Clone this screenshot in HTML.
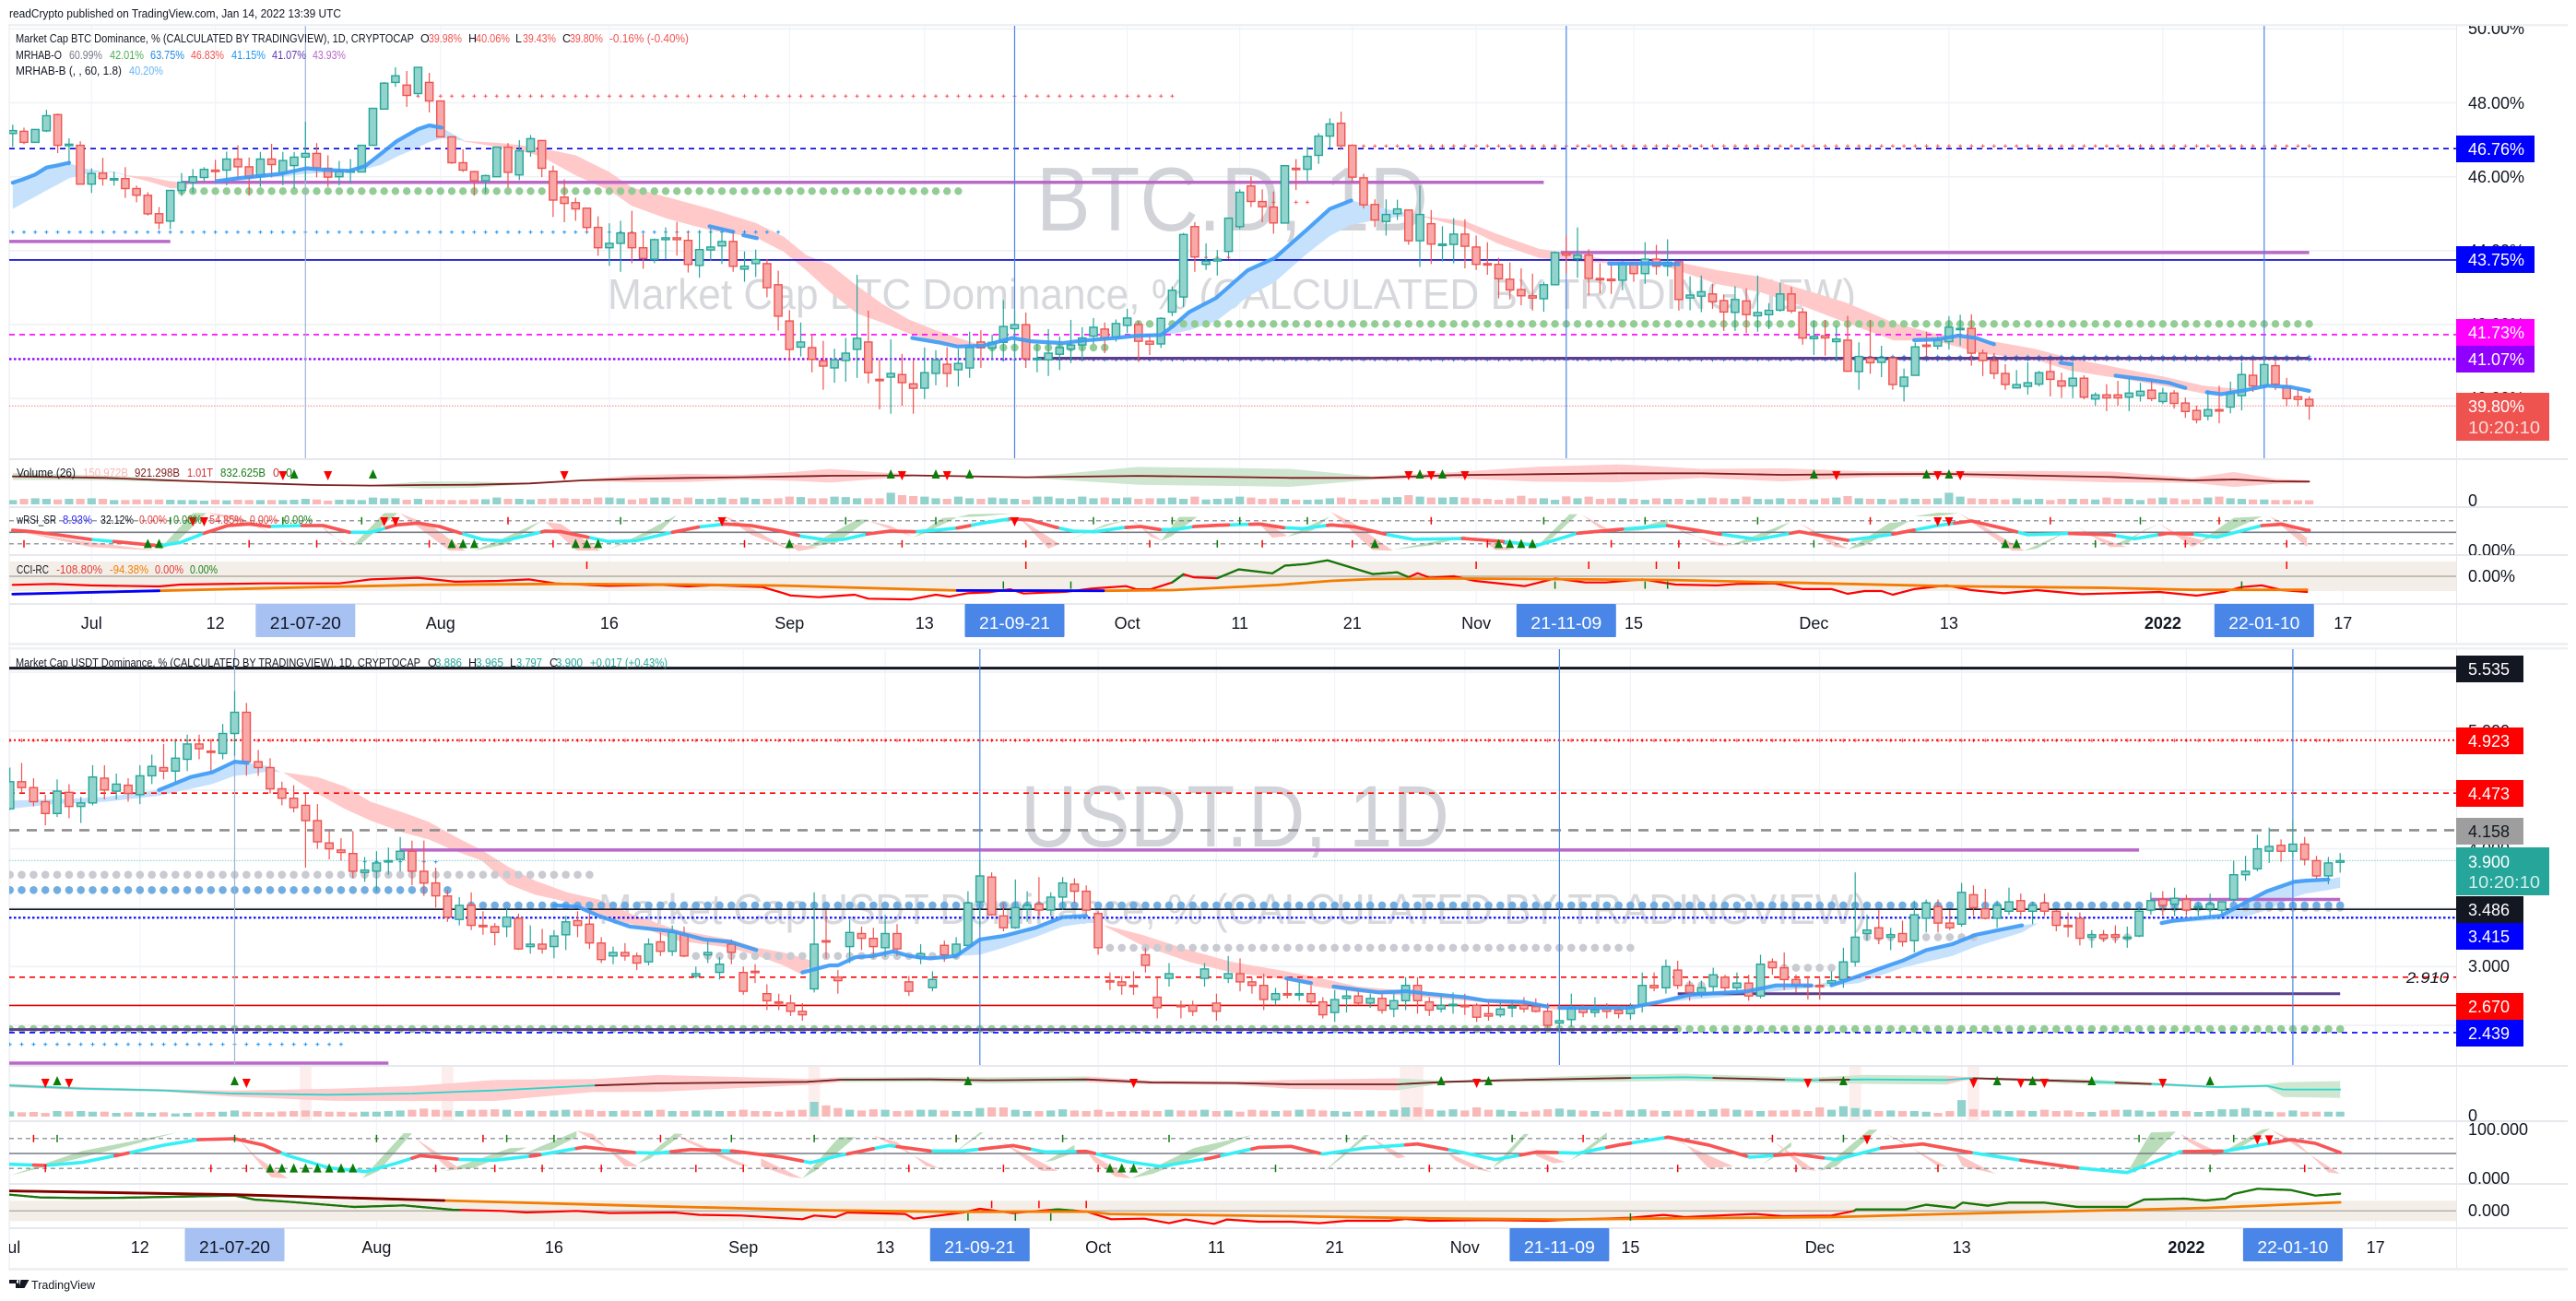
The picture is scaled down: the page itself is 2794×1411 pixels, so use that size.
<!DOCTYPE html>
<html lang="en">
<head>
<meta charset="utf-8">
<title>BTC.D and USDT.D dominance charts</title>
<style>
html,body{margin:0;padding:0;background:#fff}
svg{display:block;font-family:"Liberation Sans",sans-serif}
.lg{font-size:12.5px;fill:#131722}
.ax{font-size:18px;fill:#131722}
.pl{font-size:18px;fill:#fff}
</style>
</head>
<body>
<svg id="chart" xmlns="http://www.w3.org/2000/svg" width="2794" height="1411" viewBox="0 0 2794 1411">
<defs>
<clipPath id="clipBtcMain"><rect x="10" y="28" width="2654" height="469"/></clipPath>
<clipPath id="clipUsdtMain"><rect x="10" y="704" width="2654" height="451"/></clipPath>
<clipPath id="clipBtcVol"><rect x="10" y="499" width="2654" height="50"/></clipPath>
<clipPath id="clipBtcRsi"><rect x="10" y="551" width="2654" height="50"/></clipPath>
<clipPath id="clipBtcCci"><rect x="10" y="603" width="2654" height="51"/></clipPath>
<clipPath id="clipUsdtVol"><rect x="10" y="1157" width="2654" height="58"/></clipPath>
<clipPath id="clipUsdtRsi"><rect x="10" y="1217" width="2654" height="66"/></clipPath>
<clipPath id="clipUsdtCci"><rect x="10" y="1285" width="2654" height="46"/></clipPath>
<clipPath id="clipAxis"><rect x="10" y="655" width="2654" height="42"/></clipPath>
<clipPath id="clipAxis2"><rect x="10" y="1332" width="2654" height="43"/></clipPath>
<clipPath id="clipTopPrice"><rect x="2665" y="28" width="129" height="40"/></clipPath>
<clipPath id="clipPaneLabels"><rect x="2665" y="499" width="129" height="103"/></clipPath>
</defs>

<text x="10" y="19" class="lg" textLength="360" lengthAdjust="spacingAndGlyphs">readCrypto published on TradingView.com, Jan 14, 2022 13:39 UTC</text>

<g id="frame">
<rect x="10" y="26" width="2775" height="2.5" fill="#eff0f4"/>
<rect x="10" y="697" width="2775" height="3" fill="#eff0f4"/>
<rect x="10" y="702" width="2775" height="2.5" fill="#eff0f4"/>
<rect x="10" y="1375" width="2775" height="3" fill="#eff0f4"/>
<rect x="9.5" y="26" width="1" height="1352" fill="#e6e8ee"/>
</g>

<g id="grid"></g>

<text x="1124" y="250" font-size="98" fill="#d1d3d8" textLength="425" lengthAdjust="spacingAndGlyphs">BTC.D, 1D</text>
<text x="659" y="335" font-size="46" fill="#d6d8dc" textLength="1354" lengthAdjust="spacingAndGlyphs">Market Cap BTC Dominance, % (CALCULATED BY TRADINGVIEW)</text>
<text x="1107" y="918" font-size="95" fill="#d1d3d8" textLength="465" lengthAdjust="spacingAndGlyphs">USDT.D, 1D</text>
<text x="649" y="1002" font-size="46" fill="#d6d8dc" textLength="1376" lengthAdjust="spacingAndGlyphs">Market Cap USDT Dominance, % (CALCULATED BY TRADINGVIEW)</text>

<g id="btcMain" clip-path="url(#clipBtcMain)"></g>
<g id="usdtMain" clip-path="url(#clipUsdtMain)"></g>
<g id="btcVol" clip-path="url(#clipBtcVol)"></g>
<g id="btcRsi" clip-path="url(#clipBtcRsi)"></g>
<g id="btcCci" clip-path="url(#clipBtcCci)"></g>
<g id="usdtVol" clip-path="url(#clipUsdtVol)"></g>
<g id="usdtRsi" clip-path="url(#clipUsdtRsi)"></g>
<g id="usdtCci" clip-path="url(#clipUsdtCci)"></g>
<g id="btcTime" clip-path="url(#clipAxis)"></g>
<g id="usdtTime" clip-path="url(#clipAxis2)"></g>

<g>
<text x="17" y="46" class="lg" textLength="432" lengthAdjust="spacingAndGlyphs">Market Cap BTC Dominance, % (CALCULATED BY TRADINGVIEW), 1D, CRYPTOCAP</text>
<text x="456" y="46" class="lg">O</text>
<text x="465" y="46" class="lg" style="fill:#ef5350" textLength="36" lengthAdjust="spacingAndGlyphs">39.98%</text>
<text x="508" y="46" class="lg">H</text>
<text x="516" y="46" class="lg" style="fill:#ef5350" textLength="37" lengthAdjust="spacingAndGlyphs">40.06%</text>
<text x="559" y="46" class="lg">L</text>
<text x="567" y="46" class="lg" style="fill:#ef5350" textLength="36" lengthAdjust="spacingAndGlyphs">39.43%</text>
<text x="610" y="46" class="lg">C</text>
<text x="618" y="46" class="lg" style="fill:#ef5350" textLength="36" lengthAdjust="spacingAndGlyphs">39.80%</text>
<text x="661" y="46" class="lg" style="fill:#ef5350" textLength="86" lengthAdjust="spacingAndGlyphs">-0.16% (-0.40%)</text>
<text x="17" y="64" class="lg" textLength="50" lengthAdjust="spacingAndGlyphs">MRHAB-O</text>
<text x="75" y="64" class="lg" style="fill:#787b86" textLength="36" lengthAdjust="spacingAndGlyphs">60.99%</text>
<text x="119" y="64" class="lg" style="fill:#4caf50" textLength="37" lengthAdjust="spacingAndGlyphs">42.01%</text>
<text x="163" y="64" class="lg" style="fill:#1e88e5" textLength="37" lengthAdjust="spacingAndGlyphs">63.75%</text>
<text x="207" y="64" class="lg" style="fill:#ef5350" textLength="36" lengthAdjust="spacingAndGlyphs">46.83%</text>
<text x="251" y="64" class="lg" style="fill:#2196f3" textLength="37" lengthAdjust="spacingAndGlyphs">41.15%</text>
<text x="295" y="64" class="lg" style="fill:#5e35b1" textLength="37" lengthAdjust="spacingAndGlyphs">41.07%</text>
<text x="339" y="64" class="lg" style="fill:#ba68c8" textLength="36" lengthAdjust="spacingAndGlyphs">43.93%</text>
<text x="17" y="81" class="lg" textLength="115" lengthAdjust="spacingAndGlyphs">MRHAB-B (, , 60, 1.8)</text>
<text x="140" y="81" class="lg" style="fill:#64b5f6" textLength="37" lengthAdjust="spacingAndGlyphs">40.20%</text>
</g>

<g>
<text x="18" y="517" class="lg" textLength="64" lengthAdjust="spacingAndGlyphs">Volume (26)</text>
<text x="90" y="517" class="lg" style="fill:#f7b9b9" textLength="49" lengthAdjust="spacingAndGlyphs">150.972B</text>
<text x="146" y="517" class="lg" style="fill:#7f1d1d" textLength="49" lengthAdjust="spacingAndGlyphs">921.298B</text>
<text x="203" y="517" class="lg" style="fill:#d32f2f" textLength="28" lengthAdjust="spacingAndGlyphs">1.01T</text>
<text x="239" y="517" class="lg" style="fill:#1b7f1b" textLength="49" lengthAdjust="spacingAndGlyphs">832.625B</text>
<text x="296" y="517" class="lg" style="fill:#d32f2f">0</text>
<text x="310" y="517" class="lg" style="fill:#1b7f1b">0</text>
<text x="18" y="568" class="lg" textLength="43" lengthAdjust="spacingAndGlyphs">wRSI_SR</text>
<text x="68" y="568" class="lg" style="fill:#2a2af0" textLength="32" lengthAdjust="spacingAndGlyphs">8.93%</text>
<text x="109" y="568" class="lg" textLength="36" lengthAdjust="spacingAndGlyphs">32.12%</text>
<text x="151" y="568" class="lg" style="fill:#e53935" textLength="30" lengthAdjust="spacingAndGlyphs">0.00%</text>
<text x="188" y="568" class="lg" style="fill:#1b7f1b" textLength="31" lengthAdjust="spacingAndGlyphs">0.00%</text>
<text x="227" y="568" class="lg" style="fill:#e53935" textLength="37" lengthAdjust="spacingAndGlyphs">54.85%</text>
<text x="271" y="568" class="lg" style="fill:#e53935" textLength="30" lengthAdjust="spacingAndGlyphs">0.00%</text>
<text x="308" y="568" class="lg" style="fill:#1b7f1b" textLength="31" lengthAdjust="spacingAndGlyphs">0.00%</text>
<text x="18" y="622" class="lg" textLength="35" lengthAdjust="spacingAndGlyphs">CCI-RC</text>
<text x="61" y="622" class="lg" style="fill:#e53935" textLength="50" lengthAdjust="spacingAndGlyphs">-108.80%</text>
<text x="119" y="622" class="lg" style="fill:#f57c00" textLength="42" lengthAdjust="spacingAndGlyphs">-94.38%</text>
<text x="168" y="622" class="lg" style="fill:#e53935" textLength="31" lengthAdjust="spacingAndGlyphs">0.00%</text>
<text x="206" y="622" class="lg" style="fill:#1b7f1b" textLength="30" lengthAdjust="spacingAndGlyphs">0.00%</text>
</g>

<g>
<text x="17" y="723" class="lg" textLength="439" lengthAdjust="spacingAndGlyphs">Market Cap USDT Dominance, % (CALCULATED BY TRADINGVIEW), 1D, CRYPTOCAP</text>
<text x="464" y="723" class="lg">O</text>
<text x="472" y="723" class="lg" style="fill:#26a69a" textLength="29" lengthAdjust="spacingAndGlyphs">3.886</text>
<text x="508" y="723" class="lg">H</text>
<text x="516" y="723" class="lg" style="fill:#26a69a" textLength="30" lengthAdjust="spacingAndGlyphs">3.965</text>
<text x="553" y="723" class="lg">L</text>
<text x="560" y="723" class="lg" style="fill:#26a69a" textLength="28" lengthAdjust="spacingAndGlyphs">3.797</text>
<text x="596" y="723" class="lg">C</text>
<text x="603" y="723" class="lg" style="fill:#26a69a" textLength="29" lengthAdjust="spacingAndGlyphs">3.900</text>
<text x="640" y="723" class="lg" style="fill:#26a69a" textLength="84" lengthAdjust="spacingAndGlyphs">+0.017 (+0.43%)</text>
</g>

<g>
<rect x="2664" y="28" width="1" height="669" fill="#e6e8ee"/>
<text x="2677" y="37" class="ax" clip-path="url(#clipTopPrice)">50.00%</text>
<text x="2677" y="118" class="ax">48.00%</text>
<text x="2677" y="198" class="ax">46.00%</text>
<text x="2677" y="278" class="ax">44.00%</text>
<text x="2677" y="358" class="ax">42.00%</text>
<text x="2677" y="438" class="ax">40.00%</text>
<g><rect x="2664" y="147" width="85" height="29" fill="#0000ff"/><text x="2677" y="168" class="pl">46.76%</text></g>
<g><rect x="2664" y="267" width="85" height="29" fill="#0000ff"/><text x="2677" y="288" class="pl">43.75%</text></g>
<g><rect x="2664" y="346" width="85" height="29" fill="#ff00ff"/><text x="2677" y="367" class="pl">41.73%</text></g>
<g><rect x="2664" y="375" width="85" height="29" fill="#8f00ff"/><text x="2677" y="396" class="pl">41.07%</text></g>
<g><rect x="2664" y="426" width="101" height="52" fill="#ef5350"/><text x="2677" y="447" class="pl">39.80%</text><text x="2677" y="470" class="pl" fill-opacity="0.8" textLength="78" lengthAdjust="spacingAndGlyphs">10:20:10</text></g>
<g clip-path="url(#clipPaneLabels)">
<text x="2677" y="549" class="ax">0</text>
<text x="2677" y="603" class="ax">0.00%</text>
</g>
<text x="2677" y="631" class="ax">0.00%</text>
</g>

<g>
<rect x="2664" y="704" width="1" height="671" fill="#e6e8ee"/>
<text x="2677" y="799" class="ax">5.000</text>
<text x="2677" y="927" class="ax">4.000</text>
<text x="2677" y="1054" class="ax">3.000</text>
<g><rect x="2664" y="711" width="73" height="29" fill="#131722"/><text x="2677" y="732" class="pl">5.535</text></g>
<g><rect x="2664" y="789" width="73" height="29" fill="#ff0000"/><text x="2677" y="810" class="pl">4.923</text></g>
<g><rect x="2664" y="846" width="73" height="29" fill="#ff0000"/><text x="2677" y="867" class="pl">4.473</text></g>
<g><rect x="2664" y="887" width="73" height="29" fill="#9e9e9e"/><text x="2677" y="908" class="pl" style="fill:#131722">4.158</text></g>
<g><rect x="2664" y="919" width="101" height="52" fill="#26a69a"/><text x="2677" y="941" class="pl">3.900</text><text x="2677" y="963" class="pl" fill-opacity="0.8" textLength="78" lengthAdjust="spacingAndGlyphs">10:20:10</text></g>
<g><rect x="2664" y="972" width="73" height="29" fill="#131722"/><text x="2677" y="993" class="pl">3.486</text></g>
<g><rect x="2664" y="1001" width="73" height="29" fill="#0000ff"/><text x="2677" y="1022" class="pl">3.415</text></g>
<g><rect x="2664" y="1077" width="73" height="29" fill="#ff0000"/><text x="2677" y="1098" class="pl">2.670</text></g>
<g><rect x="2664" y="1106" width="73" height="29" fill="#0000ff"/><text x="2677" y="1127" class="pl">2.439</text></g>
<text x="2610" y="1066" font-size="17" font-style="italic" fill="#131722" textLength="46" lengthAdjust="spacingAndGlyphs">2.910</text>
<text x="2677" y="1216" class="ax">0</text>
<text x="2677" y="1231" class="ax">100.000</text>
<text x="2677" y="1284" class="ax">0.000</text>
<text x="2677" y="1319" class="ax">0.000</text>
</g>

<g>
<path d="M10 1388h11v9h-4v-5h-7zM22.5 1388h9l-5 9h-6z M20 1388a2 2 0 0 0 0 4z" fill="#131722"/>
<text x="34" y="1398" font-size="13" fill="#131722" textLength="69" lengthAdjust="spacingAndGlyphs">TradingView</text>
</g>
</svg>

<script>
// ---------- BTC.D price series (daily, %, from 24 Jun 2021) ----------
const btcOpen=[
47.17,47.23,46.93,47.24,47.68,46.84,46.85,45.80,46.10,45.93,
45.95,45.68,45.50,45.00,44.80,45.63,45.85,45.98,46.18,46.18,
46.48,46.27,46.00,46.48,46.10,46.30,46.53,46.63,46.23,46.00,
46.13,46.13,46.85,47.83,48.55,48.48,48.25,48.55,48.05,47.08,
46.38,46.14,45.89,46.00,46.80,46.05,46.68,46.98,46.15,45.45,
45.30,45.15,44.63,44.08,44.20,44.48,44.08,43.77,44.30,44.35,
44.28,43.60,44.02,44.13,44.25,43.50,43.65,43.65,43.08,42.10,
41.39,41.38,41.02,40.83,41.03,41.33,41.53,40.52,40.58,40.65,
40.40,40.28,40.68,40.93,40.78,40.83,41.53,41.37,41.52,41.89,
42.00,41.08,41.05,41.20,41.34,41.45,41.69,41.88,41.66,41.98,
42.00,41.55,41.48,42.34,42.75,44.65,43.63,43.72,43.98,44.65,
45.75,45.33,45.18,44.75,46.23,46.20,46.58,47.10,47.45,46.85,
45.97,45.25,44.79,45.00,45.10,44.27,44.73,44.14,44.17,44.45,
44.10,43.65,43.63,43.23,42.95,42.78,42.70,43.08,43.93,43.78,
43.88,43.25,43.23,43.20,43.66,43.38,43.77,43.58,43.70,42.72,
42.77,42.83,42.65,42.33,42.64,42.24,42.27,42.39,42.83,42.34,
41.62,41.70,41.54,41.58,40.73,41.09,40.98,41.10,40.33,40.63,
41.45,41.42,41.54,41.87,41.90,41.23,41.03,40.68,40.29,40.33,
40.39,40.73,40.48,40.34,40.55,39.99,40.10,40.10,40.04,40.08,
40.23,39.92,40.15,39.88,39.68,39.53,39.70,39.77,40.08,40.63,
40.35,40.89,40.34,40.05,39.98];
const btcClose=[
47.25,46.93,47.28,47.65,46.85,46.88,45.80,46.09,45.95,45.95,
45.68,45.50,45.00,44.75,45.63,45.85,46.00,46.20,46.14,46.48,
46.27,45.98,46.48,46.33,46.44,46.53,46.63,46.24,45.99,46.14,
46.16,46.85,47.85,48.53,48.73,48.20,48.96,48.05,47.08,46.38,
46.18,45.89,46.03,46.80,46.12,46.70,47.03,46.23,45.37,45.28,
45.13,44.63,44.08,44.20,44.48,44.08,43.79,44.30,44.35,44.30,
43.63,44.03,44.10,44.25,43.58,43.58,43.76,43.00,42.23,41.33,
41.53,41.06,40.88,41.05,41.23,41.63,40.70,40.49,40.68,40.43,
40.28,40.70,41.05,40.68,40.95,41.38,41.37,41.52,41.95,42.00,
41.08,41.09,41.23,41.38,41.45,41.64,41.93,41.64,42.03,42.18,
41.55,41.47,42.17,42.93,44.44,43.83,43.72,43.77,44.88,45.58,
45.33,45.19,44.75,46.30,46.21,46.55,47.10,47.43,46.84,45.99,
45.24,44.83,44.98,45.13,44.27,44.98,44.18,44.18,44.45,44.12,
43.63,43.62,43.24,42.94,42.78,42.72,43.08,43.95,43.88,43.88,
43.25,43.23,43.19,43.66,43.38,43.77,43.58,43.69,42.68,42.80,
42.89,42.62,42.34,42.68,42.27,42.33,42.39,42.83,42.37,41.64,
41.68,41.64,41.61,40.74,41.14,40.97,41.10,40.38,40.58,41.40,
41.42,41.58,41.93,41.90,41.23,41.03,40.68,40.38,40.38,40.43,
40.70,40.52,40.34,40.55,40.04,40.10,40.02,40.02,40.15,40.20,
40.00,40.15,39.87,39.65,39.43,39.70,39.67,40.16,40.65,40.34,
40.92,40.39,40.00,39.98,39.80];
const btcHigh=[
47.41,47.33,47.28,47.81,47.71,47.04,46.96,46.23,46.51,46.14,
46.26,45.76,45.58,45.18,45.63,46.10,46.21,46.26,46.46,46.68,
46.85,46.52,46.67,46.89,46.67,46.67,47.49,46.91,46.58,46.43,
46.48,46.85,47.85,48.56,48.96,48.86,48.96,48.81,48.05,47.08,
46.74,46.16,46.06,46.81,46.91,46.99,47.13,46.99,46.30,45.93,
45.43,45.15,44.93,44.74,44.81,45.08,44.46,44.33,44.63,44.78,
44.52,44.56,44.60,44.60,44.48,43.98,44.03,43.77,43.46,42.39,
42.06,41.74,41.56,41.35,41.64,43.35,42.38,41.06,41.60,41.21,
41.06,41.38,41.31,41.39,41.35,41.81,41.85,41.73,42.66,42.39,
42.33,41.48,41.88,41.68,42.13,41.93,42.18,42.06,42.14,42.43,
42.10,41.73,42.20,43.03,44.48,44.77,44.20,44.02,44.88,45.66,
46.01,45.66,45.60,46.30,46.48,46.81,47.18,47.58,47.76,46.85,
46.08,45.39,45.39,45.38,45.10,45.76,45.10,44.66,44.88,44.85,
44.41,44.23,43.81,43.68,43.52,43.38,43.16,43.98,44.41,44.63,
44.04,43.66,43.64,43.73,43.68,44.23,44.16,44.31,43.70,43.31,
43.33,43.10,42.81,43.04,42.98,43.33,42.58,43.13,43.02,42.45,
42.10,42.13,41.96,42.24,41.52,42.13,41.43,41.10,40.81,41.52,
41.81,41.68,42.23,42.27,42.28,41.33,41.23,40.93,40.77,40.98,
40.75,41.04,40.70,40.98,40.63,40.17,40.39,40.48,40.56,40.43,
40.52,40.29,40.23,40.03,39.81,40.23,40.35,40.46,40.98,41.04,
41.02,41.02,40.56,40.27,40.06];
const btcLow=[
46.81,46.88,46.93,47.21,46.64,46.31,45.79,45.56,45.76,45.76,
45.43,45.31,44.95,44.58,44.58,45.48,45.56,45.89,45.81,45.77,
45.93,45.49,45.73,45.98,45.77,45.68,45.89,45.98,45.73,45.77,
45.81,46.13,46.85,47.83,48.43,47.89,48.18,47.74,47.06,46.35,
46.13,45.49,45.56,46.00,45.71,45.91,46.54,45.99,44.91,44.77,
44.81,44.49,43.86,43.59,43.43,43.66,43.51,43.66,43.77,43.87,
43.41,43.27,43.73,43.64,43.43,43.16,43.29,42.74,41.84,41.02,
41.14,40.71,40.24,40.43,40.46,40.56,40.41,39.71,39.59,39.81,
39.59,39.99,40.36,40.31,40.33,40.56,40.83,41.04,41.02,41.01,
40.83,40.71,40.61,40.77,40.96,41.06,41.48,41.23,41.54,41.77,
40.99,41.18,41.37,42.23,42.48,43.43,43.48,43.33,43.83,44.58,
45.18,44.77,44.46,44.74,45.64,45.89,46.35,46.77,46.73,45.85,
45.14,44.64,44.41,44.83,44.16,43.56,43.64,43.71,43.66,43.52,
43.48,43.35,42.71,42.68,42.52,42.38,42.35,43.06,43.38,43.27,
42.79,42.85,42.83,42.93,43.16,43.10,43.35,43.31,42.38,42.39,
42.34,42.43,41.83,41.83,41.77,41.81,41.88,42.35,42.31,41.46,
41.18,41.16,41.02,40.72,40.24,40.67,40.58,40.24,39.92,40.62,
41.14,41.33,41.33,41.43,40.89,40.61,40.53,40.24,40.27,40.11,
40.33,40.06,40.02,40.01,39.98,39.81,39.66,39.81,39.66,39.92,
39.93,39.85,39.73,39.48,39.33,39.41,39.33,39.60,39.68,40.18,
40.35,40.23,39.79,39.79,39.43];

// ---------- USDT.D price series (daily, %, from 1 Jul 2021) ----------
const usdtOpen=[
4.34,4.57,4.52,4.40,4.30,4.48,4.36,4.39,4.60,4.49,
4.54,4.46,4.62,4.69,4.66,4.76,4.89,4.83,4.81,4.98,
5.16,4.74,4.69,4.51,4.43,4.37,4.24,4.05,3.99,3.96,
3.80,3.81,3.89,3.91,3.98,3.81,3.71,3.60,3.40,3.52,
3.35,3.34,3.34,3.41,3.17,3.19,3.17,3.27,3.39,3.36,
3.20,3.09,3.12,3.09,3.04,3.21,3.13,3.27,2.92,3.10,
2.95,3.19,2.95,2.96,2.77,2.70,2.69,2.62,2.81,3.22,
2.91,3.17,3.28,3.24,3.16,3.28,2.87,3.07,2.82,3.18,
3.10,3.18,3.55,3.76,3.43,3.33,3.49,3.53,3.48,3.59,
3.70,3.64,3.45,2.88,2.87,2.84,3.10,2.74,2.90,2.67,
2.67,2.90,2.69,2.90,2.94,2.87,2.84,2.72,2.77,2.76,
2.77,2.70,2.61,2.73,2.75,2.69,2.73,2.64,2.71,2.84,
2.70,2.64,2.67,2.67,2.67,2.60,2.59,2.65,2.67,2.66,
2.62,2.52,2.55,2.64,2.61,2.64,2.63,2.60,2.67,2.84,
2.82,2.97,2.84,2.78,2.83,2.91,2.82,2.86,2.75,3.04,
2.99,2.89,2.84,2.84,2.86,2.89,3.04,3.28,3.33,3.25,
3.28,3.22,3.41,3.51,3.37,3.36,3.61,3.49,3.41,3.47,
3.56,3.47,3.54,3.47,3.35,3.41,3.25,3.27,3.27,3.24,
3.26,3.48,3.57,3.53,3.57,3.50,3.49,3.48,3.57,3.78,
3.83,3.98,4.03,3.98,4.04,3.90,3.77,3.886];
const usdtClose=[
4.57,4.52,4.40,4.30,4.49,4.36,4.39,4.61,4.50,4.55,
4.47,4.62,4.70,4.66,4.77,4.89,4.85,4.82,4.98,5.16,
4.74,4.69,4.51,4.43,4.35,4.24,4.06,4.00,3.97,3.81,
3.82,3.88,3.90,3.98,3.81,3.71,3.60,3.42,3.52,3.35,
3.34,3.29,3.42,3.15,3.19,3.15,3.26,3.38,3.35,3.20,
3.06,3.12,3.09,3.03,3.19,3.13,3.29,3.09,2.94,3.12,
3.02,3.12,2.79,2.95,2.71,2.69,2.62,2.59,3.19,3.21,
2.88,3.29,3.24,3.17,3.28,3.15,2.79,3.11,2.89,3.10,
3.19,3.54,3.77,3.44,3.33,3.50,3.52,3.48,3.59,3.71,
3.64,3.48,3.16,2.87,2.84,2.83,3.01,2.65,2.94,2.66,
2.62,2.98,2.62,2.94,2.87,2.84,2.72,2.77,2.76,2.77,
2.70,2.59,2.72,2.75,2.69,2.73,2.63,2.71,2.84,2.71,
2.63,2.67,2.68,2.66,2.57,2.58,2.64,2.66,2.64,2.62,
2.50,2.54,2.65,2.61,2.63,2.62,2.60,2.66,2.84,2.82,
3.00,2.84,2.78,2.82,2.93,2.82,2.86,2.75,3.02,2.99,
2.89,2.84,2.83,2.83,2.88,3.04,3.25,3.31,3.24,3.27,
3.21,3.44,3.54,3.37,3.33,3.63,3.50,3.41,3.52,3.55,
3.47,3.52,3.47,3.35,3.34,3.24,3.27,3.24,3.25,3.25,
3.47,3.56,3.52,3.58,3.48,3.51,3.53,3.55,3.78,3.81,
4.00,4.02,3.98,4.04,3.91,3.77,3.88,3.90];
const usdtHigh=[
4.69,4.73,4.60,4.46,4.59,4.55,4.44,4.71,4.71,4.64,
4.60,4.71,4.80,4.89,4.92,4.97,4.97,4.92,5.06,5.34,
5.24,4.84,4.77,4.57,4.54,4.47,4.38,4.15,4.09,4.15,
3.93,3.98,4.01,4.10,4.07,4.07,3.84,3.65,3.59,3.63,
3.47,3.37,3.50,3.45,3.35,3.32,3.31,3.43,3.47,3.46,
3.25,3.17,3.20,3.12,3.24,3.29,3.35,3.34,3.00,3.21,
3.08,3.23,3.00,3.02,2.85,2.77,2.76,2.69,3.63,3.48,
2.97,3.40,3.34,3.33,3.44,3.36,2.92,3.19,2.96,3.22,
3.25,3.64,3.90,3.80,3.54,3.74,3.64,3.76,3.63,3.76,
3.75,3.69,3.47,2.95,2.92,2.96,3.16,2.91,3.03,2.71,
2.71,3.03,2.77,3.09,3.07,2.91,2.94,2.82,2.91,2.87,
2.84,2.74,2.80,2.80,2.80,2.77,2.77,2.77,2.91,2.91,
2.74,2.75,2.78,2.77,2.69,2.70,2.71,2.72,2.74,2.73,
2.69,2.65,2.77,2.68,2.74,2.69,2.67,2.69,2.95,2.95,
3.06,3.05,2.88,2.88,2.99,2.93,2.95,2.93,3.10,3.07,
3.12,2.93,2.92,2.90,2.96,3.16,3.80,3.44,3.48,3.33,
3.39,3.56,3.57,3.57,3.48,3.71,3.69,3.66,3.56,3.67,
3.62,3.55,3.62,3.48,3.46,3.46,3.31,3.31,3.35,3.34,
3.51,3.63,3.64,3.67,3.61,3.54,3.62,3.55,3.90,3.94,
4.12,4.18,4.08,4.24,4.10,3.94,3.93,3.965];
const usdtLow=[
4.33,4.48,4.36,4.20,4.27,4.26,4.22,4.37,4.42,4.42,
4.40,4.38,4.55,4.59,4.56,4.66,4.76,4.65,4.76,4.79,
4.62,4.62,4.47,4.37,4.31,3.84,4.00,3.91,3.90,3.75,
3.72,3.64,3.78,3.81,3.69,3.60,3.50,3.38,3.35,3.31,
3.27,3.18,3.25,3.14,3.11,3.11,3.07,3.14,3.25,3.15,
3.03,3.02,3.05,2.97,3.01,3.09,3.09,3.08,2.90,3.03,
2.89,3.02,2.76,2.86,2.63,2.63,2.58,2.54,2.78,3.07,
2.77,3.03,3.14,3.07,3.08,3.09,2.75,3.02,2.79,3.04,
3.07,3.17,3.33,3.43,3.30,3.32,3.38,3.43,3.43,3.48,
3.54,3.43,3.10,2.80,2.76,2.76,2.95,2.56,2.83,2.56,
2.58,2.83,2.54,2.86,2.79,2.77,2.63,2.67,2.73,2.71,
2.67,2.56,2.53,2.61,2.67,2.65,2.60,2.57,2.63,2.60,
2.58,2.61,2.60,2.59,2.53,2.54,2.57,2.57,2.61,2.61,
2.48,2.49,2.49,2.57,2.57,2.56,2.56,2.55,2.61,2.79,
2.77,2.81,2.71,2.74,2.76,2.78,2.80,2.71,2.73,2.93,
2.80,2.78,2.72,2.72,2.84,2.82,3.00,3.22,3.19,3.14,
3.17,3.12,3.29,3.29,3.31,3.34,3.43,3.40,3.33,3.44,
3.43,3.36,3.43,3.30,3.25,3.18,3.16,3.21,3.20,3.16,
3.25,3.44,3.43,3.43,3.43,3.43,3.43,3.43,3.55,3.73,
3.81,3.88,3.89,3.93,3.86,3.75,3.70,3.797];

// ---------- Axis ticks ----------
const btcPriceGrid=[50,48,46,44,42,40];
const usdtPriceGrid=[5.5,5,4.5,4,3.5,3,2.5];
const btcTickBars=[7,18,38,53,69,81,99,109,119,130,144,160,172,191,207];
const btcTickLabels=["Jul","12","Aug","16","Sep","13","Oct","11","21","Nov","15","Dec","13","2022","17"];
const usdtTickBars=[0,11,31,46,62,74,92,102,112,123,137,153,165,184,200];
const usdtTickLabels=["Jul","12","Aug","16","Sep","13","Oct","11","21","Nov","15","Dec","13","2022","17"];
const btcSelBars=[26,89,138,200];
const usdtSelBars=[19,82,131,193];
const selLabels=["21-07-20","21-09-21","21-11-09","22-01-10"];

// ---------- BTC levels ----------
const btcBlueDashLevel=46.76, btcBlueSolidLevel=43.75, btcMagentaLevel=41.73, btcPurpleDotLevel=41.07, btcLastLevel=39.80;
const btcPurpleLevels=[45.85,44.25,43.95];
const btcPurpleFrom=[15,-1,137.5];
const btcPurpleTo=[136,14,204];
const btcDarkLevel=41.09, btcDarkFrom=91, btcDarkTo=204;
const btcGreenDotLevels=[45.61,42.02,41.38];
const btcGreenDotFrom=[15,100,87];
const btcGreenDotTo=[84,204,97];
const btcRedCrossLevels=[48.18,46.83,43.82,45.31];
const btcRedCrossFrom=[36,119,106,112];
const btcRedCrossTo=[103,204,108,115];
const btcBlueCrossLevels=[44.50,41.05,41.14];
const btcBlueCrossFrom=[0,88,165];
const btcBlueCrossTo=[68,204,204];

// ---------- BTC MRHAB ribbons ----------
const btcPink1Bars=[10,12,14,15.5];
const btcPink1Top=[46.04,46.0,45.88,45.82];
const btcPink1Bot=[46.03,45.88,45.69,45.69];
const btcPink2Bars=[40,43,45,47,50,53,55,58,62,66,68.5,70.5,72.6,75,77.3,79.6,82,84,86];
const btcPink2Top=[46.97,46.92,46.86,46.77,46.58,46.13,45.71,45.46,45.13,44.75,44.38,43.88,43.63,43.05,42.55,42.14,41.85,41.64,41.45];
const btcPink2Bot=[46.96,46.81,46.71,46.54,46.04,45.63,45.21,44.88,44.55,44.36,43.97,43.47,42.88,42.30,42.05,41.76,41.55,41.43,41.40];
const btcPink3Bars=[125.2,129,131.8,135.6,138.4,141.7,146.3,147.9,151.5,155.2,159.3,162.9,167.1,170.7,174.9,179.6,182.7,186.8,191,194.6,197.5];
const btcPink3Top=[44.94,44.8,44.46,44.05,43.92,43.76,43.72,43.69,43.47,43.3,42.93,42.59,42.05,41.76,41.6,41.35,41.1,40.85,40.6,40.35,40.27];
const btcPink3Bot=[44.92,44.63,44.21,43.8,43.72,43.66,43.63,43.47,43.09,42.88,42.47,42.05,41.57,41.57,41.22,41.06,40.76,40.56,40.35,40.14,40.18];
const btcBlue1Bars=[0,1,2,3,4,5,6,7,8,9,10];
const btcBlue1Top=[45.84,45.94,46.06,46.25,46.31,46.38,46.25,46.19,46.16,46.13,46.06];
const btcBlue1Bot=[45.13,45.3,45.46,45.63,45.79,45.96,46.04,46.11,46.14,46.11,46.04];
const btcBlue2Bars=[18.1,20,21.9,23.8,26.1,28,29.9,31.3,32.7,34.1,36,37,38.1,40.2];
const btcBlue2Top=[45.88,45.96,46.02,46.08,46.23,46.18,46.16,46.29,46.62,46.96,47.29,47.39,47.33,46.97];
const btcBlue2Bot=[45.84,45.88,45.96,46.0,46.08,46.11,46.13,46.21,46.32,46.54,46.79,46.94,47.04,46.97];
const btcBlue3Bars=[93.3,95,98,100,102,104.5,106.9,109.7,112.1,114.9,117,118.9,122,124.7];
const btcBlue3Top=[41.5,41.57,41.64,41.7,41.72,42.34,42.72,43.47,43.8,44.55,45.13,45.36,45.13,44.96];
const btcBlue3Bot=[41.47,41.55,41.62,41.66,41.68,41.85,42.09,42.75,43.15,43.9,44.4,44.7,44.88,44.96];
const btcLine1Bars=[0,1,2,3,4,5];
const btcLine1Vals=[45.84,45.94,46.06,46.25,46.31,46.38];
const btcLine2Bars=[18.1,20,21.9,23.8,26.1,28,29.9,31.3,32.7,34.1,36,37,38.1];
const btcLine2Vals=[45.88,45.96,46.02,46.08,46.23,46.18,46.16,46.29,46.62,46.96,47.29,47.39,47.33];
const btcLine3Bars=[61.9,64];
const btcLine3Vals=[44.66,44.51];
const btcLine4Bars=[64.9,66.1];
const btcLine4Vals=[44.42,44.34];
const btcLine5Bars=[79.9,82.4,83.9,86.2,88.8,90.4,93.3,95.1,98,99.8,102,103.1,104.5,106.9,109.7,112.1,114.9,117,118.9];
const btcLine5Vals=[41.64,41.51,41.41,41.43,41.64,41.55,41.5,41.57,41.64,41.7,41.72,41.97,42.34,42.72,43.47,43.8,44.55,45.13,45.36];
const btcLine6Bars=[141.8,146.3,148];
const btcLine6Vals=[43.65,43.65,43.63];
const btcLine7Bars=[168.9,171,172.8,174.4,176];
const btcLine7Vals=[41.58,41.6,41.7,41.64,41.47];
const btcLine8Bars=[181.9,182.9];
const btcLine8Vals=[40.97,40.93];
const btcLine9Bars=[186.8,189.4,191.5,193];
const btcLine9Vals=[40.62,40.52,40.43,40.29];
const btcLine10Bars=[194.9,196.2,198.2,200.3,202.4,204];
const btcLine10Vals=[40.17,40.12,40.22,40.35,40.31,40.21];

// ---------- USDT levels ----------
const usdtBlack1Level=5.535, usdtRedDotLevel=4.923, usdtRedDashLevel=4.473, usdtGrayLevel=4.158, usdtLastLevel=3.90, usdtBlack2Level=3.486, usdtBlueDotLevel=3.415, usdtRedDash2Level=2.91, usdtRedSolidLevel=2.67, usdtBlueDashLevel=2.439;
const usdtPurpleLevels=[3.99,2.18,3.57];
const usdtPurpleFrom=[33,-1,181];
const usdtPurpleTo=[180,32,197];
const usdtDarkLevels=[2.465,2.77];
const usdtDarkFrom=[-1,141];
const usdtDarkTo=[141,197];
const usdtGrayDotLevels=[3.78,3.09,3.16,2.99,2.84,3.25,3.25,3.50];
const usdtGrayDotFrom=[0,58,93,150,142,157,176,181];
const usdtGrayDotTo=[49,80,137,155,143,166,179,197];
const usdtBlueDotLevels=[3.65,3.52];
const usdtBlueDotFrom=[0,39];
const usdtBlueDotTo=[37,197];
const usdtGreenDotLevels=[2.47];
const usdtGreenDotFrom=[0];
const usdtGreenDotTo=[197];
const usdtRedCrossLevels=[4.92];
const usdtRedCrossFrom=[0];
const usdtRedCrossTo=[197];
const usdtBlueCrossLevels=[2.34,3.89];
const usdtBlueCrossFrom=[0,29];
const usdtBlueCrossTo=[28,36];

// ---------- USDT MRHAB ribbons ----------
const usdtBlue1Bars=[0,3.7,8.1,12.6,15.3,17.1,19,20.1,22,22.9];
const usdtBlue1Top=[4.41,4.42,4.44,4.50,4.61,4.65,4.74,4.73,4.70,4.65];
const usdtBlue1Bot=[4.34,4.38,4.40,4.45,4.51,4.55,4.62,4.63,4.66,4.65];
const usdtLine1Bars=[12.6,15.3,17.1,19,20.1];
const usdtLine1Vals=[4.50,4.61,4.65,4.74,4.73];
const usdtPink1Bars=[23.1,26,28.3,30.5,33.2,35.4,37.7,39.9,42.1,44.4,47.1,49.8,52.9,56.5,60.9,63.2,65.4,66.8,68.1];
const usdtPink1Top=[4.65,4.61,4.53,4.40,4.31,4.23,4.10,3.99,3.85,3.73,3.63,3.57,3.43,3.31,3.23,3.16,3.12,3.08,3.04];
const usdtPink1Bot=[4.65,4.47,4.34,4.24,4.14,4.08,3.98,3.90,3.70,3.61,3.55,3.43,3.35,3.22,3.16,3.09,3.01,2.94,3.03];
const usdtLine2Bars=[46,48,49.8,52.4,56,58.7,60.9,63.1];
const usdtLine2Vals=[3.52,3.51,3.43,3.34,3.30,3.23,3.21,3.14];
const usdtBlue2Bars=[67,69.3,70,71.5,72.9,74.7,76,77.8,80,82,84,86.7,89,91,92.1];
const usdtBlue2Top=[2.95,3.01,3.01,3.08,3.09,3.13,3.09,3.07,3.09,3.23,3.26,3.33,3.42,3.43,3.37];
const usdtBlue2Bot=[2.95,3.01,3.01,3.07,3.08,3.09,3.08,3.07,3.09,3.10,3.16,3.25,3.34,3.37,3.37];
const usdtLine3Bars=[67,69.3,70,71.5,72.9,74.7,76,77.8,80,82,84,86.7,89,91];
const usdtLine3Vals=[2.95,3.01,3.01,3.08,3.09,3.13,3.09,3.07,3.09,3.23,3.26,3.33,3.42,3.43];
const usdtPink2Bars=[92.6,95.7,99.7,103.3,107.3,110.4,114,118.5,123,127.5,131,136.4];
const usdtPink2Top=[3.35,3.27,3.14,3.04,2.97,2.91,2.83,2.79,2.74,2.71,2.66,2.66];
const usdtPink2Bot=[3.34,3.18,3.04,2.95,2.90,2.83,2.78,2.75,2.71,2.67,2.63,2.64];
const usdtLine4Bars=[107.9,110];
const usdtLine4Vals=[2.90,2.86];
const usdtLine5Bars=[111.9,115.8,118.1,119.8,123,124.8,127.9,130];
const usdtLine5Vals=[2.83,2.78,2.79,2.77,2.74,2.71,2.70,2.66];
const usdtBlue3Bars=[131,136.9,139.5,142,146.9,149.3,152.3,156.3,160,162,164.2,166.2,170.1,171.5,174];
const usdtBlue3Top=[2.65,2.65,2.70,2.76,2.79,2.84,2.84,2.92,3.05,3.14,3.19,3.27,3.35,3.37,3.37];
const usdtBlue3Bot=[2.65,2.65,2.69,2.72,2.76,2.79,2.82,2.86,2.99,3.04,3.09,3.17,3.29,3.37,3.37];
const usdtLine6Bars=[131,136.9,139.5,142,146.9,149.3,152.3];
const usdtLine6Vals=[2.65,2.65,2.70,2.76,2.79,2.84,2.84];
const usdtLine7Bars=[154,156.3,160,162,164.2,166.2,170.1];
const usdtLine7Vals=[2.84,2.92,3.05,3.14,3.19,3.27,3.35];
const usdtBlue4Bars=[181.9,182.9,186.9,188.9,190.8,193.1,194.1,196,197];
const usdtBlue4Top=[3.37,3.39,3.43,3.54,3.64,3.72,3.73,3.74,3.76];
const usdtBlue4Bot=[3.35,3.37,3.40,3.42,3.48,3.59,3.62,3.65,3.67];
const usdtLine8Bars=[181.9,182.9,186.9,188.9,190.8,193.1,194.1,196];
const usdtLine8Vals=[3.37,3.39,3.43,3.54,3.64,3.72,3.73,3.74];

// ---------- Volume (billions) ----------
const btcVolume=[160,205,225,205,180,205,205,225,205,160,160,180,180,180,170,160,160,135,170,150,170,160,160,160,160,170,205,180,135,170,180,160,250,225,225,170,205,170,170,160,160,190,190,250,205,205,180,205,225,225,205,205,250,250,225,180,225,250,250,205,250,205,205,250,205,250,205,205,225,285,270,225,225,285,270,225,225,225,430,340,305,285,225,205,285,225,205,250,225,205,170,285,285,225,205,285,225,250,225,250,205,225,225,250,205,285,180,205,225,285,250,205,225,205,170,170,180,225,250,205,170,190,250,270,340,285,250,250,270,250,225,205,170,225,315,225,225,170,295,225,285,205,225,225,205,170,225,205,205,170,225,250,225,205,285,205,190,225,205,205,180,225,250,305,225,205,205,180,225,205,205,225,430,285,225,205,205,180,225,180,205,160,205,205,205,180,250,205,205,160,225,250,225,180,205,250,285,225,205,180,180,160,160,150,150];
const usdtVolume=[190,160,170,135,205,190,205,180,180,135,160,160,135,160,115,135,160,170,180,225,180,170,160,190,205,225,205,180,180,160,180,180,205,225,250,295,250,225,205,250,250,270,250,205,225,205,225,250,225,250,205,205,225,205,225,250,205,205,225,225,205,205,250,205,205,180,225,250,545,410,315,250,225,270,250,205,225,250,250,225,205,205,315,340,340,250,205,205,225,270,225,205,250,180,205,205,225,205,250,225,225,250,205,225,180,250,225,205,225,250,270,225,205,180,205,225,205,250,340,340,270,225,270,225,340,250,250,205,180,225,270,295,250,225,205,180,250,225,270,225,205,225,250,205,270,295,250,225,205,225,225,250,205,340,250,385,315,250,205,225,205,205,180,135,205,610,270,225,225,205,225,205,250,205,225,170,170,225,250,250,225,180,225,205,205,170,205,270,270,315,225,180,160,225,180,180,180,180];

// ---------- Volume moving average and envelope ----------
const btcVolMaBars=[0,3.6,8.3,13,17.7,22.4,27,31.8,36.5,41,45.9,50.6,55.3,60,64.7,69.4,72.6,80,90,100,110,113.5,120.8,128,135.4,142.7,150,157.2,164.5,171.8,179,186.4,193.6,197.3,201,204];
const btcVolMa=[1031,1009,975,896,828,771,714,692,714,725,771,884,941,975,998,1031,1054,1066,1000,1050,1000,975,975,1077,1111,1145,1145,1088,1111,1122,1066,1009,884,918,850,839];
const btcVolSpread=[-130,-110,-90,-60,-20,20,20,-20,-130,-110,-20,30,130,150,90,165,250,30,-10,-330,-330,-330,-60,110,275,330,165,240,110,90,165,200,90,275,90,45];
const usdtVolMaBars=[0,6.1,13,18.7,27,34,41,49.3,54.8,67.4,70.2,77.8,82.7,91,96.6,103.6,108.3,117.3,121.5,126.3,136,141.6,152,156.8,163.7,165.8,176.2,181.8,186.6,190.8,192.2,197];
const usdtVolMa=[1145,1032,964,850,805,850,964,1145,1224,1281,1360,1371,1338,1371,1258,1236,1190,1190,1281,1338,1417,1451,1338,1371,1349,1417,1281,1190,1088,1134,998,998];
const usdtVolSpread=[-65,55,45,110,220,275,385,240,310,110,90,-90,-110,-110,65,65,165,220,-35,-65,-130,-130,-90,-165,-165,35,-90,-55,45,-45,-275,-310];
const usdtVolAltRanges=[[49.5,137],[144,150],[153,155.5],[166,176],[178,181]];
const usdtHighlightBars=[25,37,68,118,119,156,166];

// ---------- Volume signals ----------
const btcVolUp=[25,32,78,82,85,125,127,160,170,172];
const btcVolDown=[24,28,49,79,83,124,126,129,162,171,173];
const usdtVolUp=[4,19,81,121,125,155,168,171,176,186];
const usdtVolDown=[3,5,20,95,124,152,166,170,172,182];

// ---------- wRSI ----------
const btcRsiBars=[0,1.7,4,6.9,9,13,14.9,17,19.1,21,22.8,25.7,27.6,29.9,31.8,34.1,36,37.9,39.8,41.7,43.5,45.4,47.3,48.7,51.1,52.9,55.3,58.6,60.9,63.3,65.6,68.5,70.1,72.3,73.8,76,77.9,80.1,82,83.9,86,88.6,90.4,92.6,94.2,96.1,98.6,100.2,101.9,103.3,105,107,108.9,110.8,112.9,114.6,117.1,119.3,121.9,124.4,128.8,132.4,135.4,139,142.6,147,151.7,155,158.7,163,166.7,171,174,176.9,179,182.7,186.3,188.5,191.4,193.6,195.8,199.8,201.6,203.8];
const btcRsiVals=[55.6,51.6,43.6,31.6,26,14.8,23.6,47.6,67.6,71.6,65.2,67.6,67.6,50,50,69.2,74,65.2,47.6,31.6,27.6,39.6,53.2,51.6,37.2,26,27.6,50,63.6,71.6,67.6,51.5,39.5,29.9,31.5,45.9,53.1,51.5,55.5,61.1,73.1,85.1,81.9,63.5,53.1,51.5,61.9,65.1,57.1,57.1,65.1,68.3,69.9,71.5,61.9,59.5,69.2,63.6,45.2,31.6,34,26,15.6,47.6,57.2,67.6,45.2,31.6,51.6,29.2,43.6,67.6,79.6,59.6,43.6,46.8,43.6,33.2,47.6,45.2,37.2,67.6,70.8,55.6];
const btcRsiRed=[[0,6.9],[9,13],[17,22.8],[25.7,29.9],[33.2,39.8],[47,51.1],[58.6,60.9],[63.1,69.8],[75.9,80.1],[83.9,85],[88.6,92.8],[98.9,101.9],[104.9,108],[109.9,112.9],[116.8,121.9],[128.8,132.4],[139,143],[147,151.7],[157.9,163],[167,168.9],[172.5,178],[182.7,186.7],[190.7,193.6],[199.8,204]];
const usdtRsiBars=[0,3,6.1,9.6,13.1,15.9,19,21.4,23.5,27,30.1,32.6,34.7,38.1,41,44.4,48.6,52.8,54.8,57.6,61.1,65.3,67.7,70.1,74.3,77.8,80.6,84.8,87.5,91,94.5,97.3,101.5,105.6,108.3,111,114.5,119,122.2,125.6,129.1,132.6,136,140.2,143.6,147.1,150.9,154.4,158.2,161.7,165.8,170,174.8,179,183.5,187.3,192.8,194.9,197];
const usdtRsiVals=[28.4,26,32,48.8,67,77.8,79.6,67.3,45.7,21,13.6,30,45.7,38,36.4,45.7,63,51.9,50.6,58,55,42.6,31.5,45.7,66,55,55,66,53,54.3,33.3,24,40.7,62.3,64.2,48.8,61,69,55,37.7,53,50.6,67,82.7,67,42.6,48.8,37.7,61,69,51.9,36.4,21,11.7,53.7,55,77.8,70.4,51.9];
const usdtRsiRed=[[2,3],[8.9,10],[15.9,22.8],[34,37.8],[44,44.8],[47.9,52.8],[55.9,60],[61,67],[70.8,73],[75,77.8],[82,86.2],[90.3,91.7],[101.1,102.2],[105,110.7],[118,121.5],[127.7,130.8],[135,137],[140,146.8],[149.2,153.3],[158.2,165.8],[170,174.8],[183.8,187],[191,197]];

// Ribbon quads: bar,value pairs for four corners
const btcRsiGreen=[
[13,5,16,100,17.2,100,14.5,22],[30.2,15,33,100,34.2,100,31,22],[41,2,44,40,47,80,44,20],[53,6,55.8,45,59,95,57.6,55],
[70.4,10,73.2,23,76,83,75,83],[80,35.5,82.6,87.5,83.9,89,81,47.5],[83.9,89,85,97,88.9,99.5,86,91.5],[93,19.5,96,55.5,98.9,82,97,70],
[102,27.5,103.6,90,105.2,90,103,41],[113.2,38,115.2,67.5,117,91.5,115.5,55.5],[122.6,5,128.8,39.6,129.2,39,125.9,15.6],[135.4,13,138.3,97,139,97,136.8,35.6],
[143,51.6,147,83.6,147,71.6,144.8,55.6],[152.5,15.6,157.9,77,157.2,63,155,27.6],[163,5,166.7,74,168.5,79.6,164.5,15.6],[168.9,91.6,171,101,172.9,99.6,171,92],
[178.7,2,183.4,63.6,182.7,55.6,179.8,7.6],[186.3,11.6,190.7,71.6,189.3,55.6,187.8,19.6],[194.3,26,197.3,87.6,199.8,91.6,196.2,43.6]];
const btcRsiPink=[
[0,55.6,6.9,11.6,13,2,5.9,27.6],[17.2,101,20,91.6,22.8,51.6,21,71.6],[27,79.6,29,27.6,30.1,11.6,28,47.6],[34.4,99.6,38.8,2,40.2,2,37.2,67.6],
[47.3,77.2,50.1,2,52.2,2,48.7,71.6],[63,95.6,65.6,43.6,69.2,2,65.2,67.6],[68.5,23.5,69.8,1,71.6,11,69,20],[76,79.5,77.9,67.5,80,38,78.2,55.5],
[88.9,97,93,19.5,92,7.5,89.8,75.5],[99.4,79.5,102.2,27.5,101.1,38,99.8,75.5],[110.8,69.5,111.9,35.5,113.2,41,111.8,67.5],[117.1,103,120.8,3.6,122.6,2,119,75.6],
[131,27.6,133.2,3.6,131.7,3.6,131,20],[139.4,95.6,141.9,55.6,143,51.6,141,60],[147.7,63.6,151.4,15.6,152.5,15.6,148.5,47.6],[158.7,74,161.9,11.6,163,7.6,160.1,53.2],
[172.9,99.6,177.6,2,178.7,2,175,67.6],[183.4,63.6,186.3,11.6,187.8,11.6,185,40],[190.7,71.6,193.6,11.6,194.7,27.6,192.2,47.6],[200.5,91.6,203.8,11.6,203.8,35.6,202,71.6]];
const usdtRsiGreen=[
[0,5.6,6.1,55,14.1,92,10.3,67],[29.8,0,33.3,90.7,34,90.7,31.2,15],[36.8,15,42.3,61,43.7,62,39.2,21],[43.7,52,47.9,95,47.9,83,45.8,58],
[53.1,30,56.2,90,56.9,89,54.1,39.5],[67,0,70.1,83,71.5,83,68.1,15],[78.2,21,82,92,82.3,92,79.2,40],[87.5,33,90,67,90,52,88.2,36],
[94.8,0,100.1,61,105,87,96.6,9],[111,12,114.5,87,114.9,87,112.5,39.5],[125.3,21,128,89,128.4,89,126.3,36],[131.9,36,135,92,135,83,133.2,52],
[147.1,9,150.6,73,150.6,64,148.1,27],[153,15,157.2,98,157.9,98,154.4,24],[179,12,181,92,183.1,94,179.7,12],[187,52,190.4,98,191.1,100,188.3,58]];
const usdtRsiPink=[
[19,89,22.1,2,23.5,0,20.7,46],[34.3,80,37.1,18,38.1,18,36.1,52],[47.9,96,53.1,24,52,24,49.3,89],[56.2,90,62.5,24,61.5,27,57.3,73],
[63.5,40,67,0,66,3,63.5,24],[73,86,78.5,21,77.5,24,75,73],[82.3,92,88.6,15,87.2,15,83.7,76],[91,55,94.8,0,93.5,3,91.7,33],
[115.2,80,118,43,117.3,40,115.9,64],[121.5,52,125.3,12,123.5,21,122.2,36],[129,55,131.5,33,130.5,30,129,46],[140.2,83,145.7,24,143.6,21,141.6,70],
[149.2,73,152.7,15,151.6,18,149.9,58],[158.5,90,163.7,24,163,24,159.9,76],[163.7,60,167.9,9,165.1,24,164.5,50],[183.5,89,187,49,186.3,46,184.2,73],[191.1,98,197,9,196,12,193.2,76]];

// wRSI signals
const btcRsiUp=[12,13,39,40,41,50,51,52,69,121,132,133,134,135,177,178];
const btcRsiDown=[16,17,33,34,63,89,171,172];
const btcRsiTickLowRed=[1,21,27,37,48,65,79,90,101,111,119,131,142,148,193,202];
const btcRsiTickLowGreen=[107,160,185];
const btcRsiTickHighRed=[44,126,165,181,196];
const btcRsiTickHighGreen=[14,24,31,54,74,82,96,103,109,115,136,145,155,189];
const usdtRsiUp=[22,23,24,25,26,27,28,29,93,94,95];
const usdtRsiDown=[157,190,191];
const usdtRsiTickLowRed=[3,17,20,36,41,45,50,58,62,76,84,92,120,130,141,151,163,194];
const usdtRsiTickLowGreen=[107,186];
const usdtRsiTickHighRed=[2,40,55,80,133,149];
const usdtRsiTickHighGreen=[4,19,31,42,46,61,68,80,89,98,113,127,155,180,188];

// ---------- CCI ----------
const btcCciBars=[0,3.6,6.9,13,14.9,22.4,29,31.8,36,39.3,43.1,45.9,48.2,52.9,57.6,60,62.3,66.6,68.5,69.1,71.6,74.8,76,79.8,82,83.2,84.8,86.7,88.6,89.8,93.6,95.8,98.9,99.8,101.1,103,104,104.9,107,108.9,111.9,113,114.9,116.8,120.8,123,124,124.8,125.9,128,129.9,134.3,137,139.7,141.5,144.8,147.7,151.4,153.2,156.5,159,161.6,163,164.5,166,167,168.9,171.8,174,176.9,179.8,183.8,190.7,194,196.5,198,199.8,201.6,203.8];
const btcCciVals=[-58,-52,-62,-69,-56,-48,-48,-21,-10,-37,-31,-21,-48,-65,-58,-69,-60,-73,-115,-130,-142,-125,-152,-157,-125,-138,-115,-109,-88,-117,-105,-84,-67,-88,-88,-42,14,-7,-13,47,20,72,83,108,15,27,-6,21,-10,0,-31,-67,-15,-42,-42,-21,-56,-62,-52,-48,-87,-87,-119,-100,-100,-125,-87,-62,-94,-115,-94,-121,-106,-131,-104,-73,-62,-94,-106];
const btcCciGreen=[[103,104],[107,124]];
const btcSlowBars=[0,13,27,36.5,48.2,60,68.5,77.9,83.9,96.9,103,112.4,117.1,120.8,128,135.4,147,157.2,171.8,186.3,193.6,203.8];
const btcSlowVals=[-121,-98,-73,-58,-52,-56,-63,-84,-96,-98,-94,-59,-31,-19,-15,-19,-25,-42,-67,-79,-92,-92];
const btcSlowBlue=[[0,13],[83.9,96.9]];
const btcCciTickTop=[51,90,130,140,146,148,202];
const btcCciTickBottom=[88,94,137,145,147,198];
const usdtCciBars=[0,2.6,6.1,9.6,19,20.7,23.5,29.1,33.3,37.4,41.6,43.7,47.9,50.7,56.2,58.3,61.8,67,68,69.8,70.8,75.7,76.4,80.6,82,84.8,88.6,91,93.1,95.9,98,99.4,101.8,102.9,105.6,108.3,110.7,113,116.6,118,120,125,129.8,132.2,137,139.8,141.6,144.3,147.5,149.9,154,155.9,156.1,160.3,162,164.4,165.1,167.2,169,172,174.8,179,180.4,183.8,185.6,187.3,188,190,192.8,194.9,197];
const usdtCciVals=[160,133,127,130,151,112,91,39,55,12,0,-15,0,-21,-15,-39,-45,-82,-45,-61,-15,-30,-76,-15,21,-21,15,-6,-82,-76,-121,-85,-127,-85,-106,-106,-121,-97,-97,-79,-97,-91,-97,-85,-67,-39,-61,-45,-30,-52,-45,0,15,15,61,30,82,52,82,82,39,39,112,121,103,121,167,218,206,151,170];
const usdtCciGreen=[[0,38],[88,90],[155.9,197]];
const usdtSlowBars=[0,19,36.7,54.8,68.8,79.9,91,93,108.3,122,131,137.4,154,163.7,177.6,185.9,197];
const usdtSlowVals=[197,160,103,45,6,-9,-6,-30,-52,-76,-85,-76,-61,-30,6,30,85];
const usdtSlowDark=[[0,36.7]];
const usdtCciTickTop=[83,87,91];
const usdtCciTickBottom=[81,85,88,137];

// ---------- Drawing ----------
const NS='http://www.w3.org/2000/svg';
function mk(tag,attrs,parent){
  const el=document.createElementNS(NS,tag);
  for(const k in attrs){el.setAttribute(k,attrs[k]);}
  parent.appendChild(el);
  return el;
}
const $=id=>document.getElementById(id);
const btcX=b=>13.8+12.21*b;
const btcY=v=>432.3-(v-40)*40.1;
const usdtX=b=>10.7+12.83*b;
const usdtY=v=>1048.3-(v-3)*127.7;
const btcVolY=v=>547-v/34;
const usdtVolY=v=>1211-v/34;
const btcRsiY=v=>577.3-(v-50)*0.417;
const usdtRsiY=v=>1251-(v-50)*0.54;
const btcCciY=v=>625-v*0.16;
const usdtCciY=v=>1313.3-v*0.11;

function hLine(p,x1,x2,y,color,w,dash){
  const el=mk('line',{x1:x1,x2:x2,y1:y,y2:y,stroke:color,'stroke-width':w},p);
  if(dash){el.setAttribute('stroke-dasharray',dash);}
  
  
  return el;
}
function vLine(p,x,y1,y2,color,w){
  const el=mk('line',{x1:x,x2:x,y1:y1,y2:y2,stroke:color,'stroke-width':w},p);
  
  
  return el;
}
function ribbon(p,xf,yf,bars,top,bot,color){
  const pts=[];
  bars.forEach((b,i)=>pts.push(xf(b).toFixed(1)+','+yf(top[i]).toFixed(1)));
  for(let i=bars.length-1;i>=0;i--){pts.push(xf(bars[i]).toFixed(1)+','+yf(bot[i]).toFixed(1));}
  const el=mk('polygon',{points:pts.join(' '),fill:color},p);
  
  
}
function path(p,xf,yf,bars,vals,color,w,opacity){
  const pts=bars.map((b,i)=>xf(b).toFixed(1)+','+yf(vals[i]).toFixed(1)).join(' ');
  const el=mk('polyline',{points:pts,fill:'none',stroke:color,'stroke-width':w,'stroke-linejoin':'round','stroke-linecap':'round','stroke-opacity':opacity||1},p);
  
  
  return el;
}
function rangeSlice(bars,vals,a,b){
  const at=t=>{
    if(t<=bars[0])return vals[0];
    for(let i=1;i<bars.length;i++){
      if(t<=bars[i]){const f=(t-bars[i-1])/(bars[i]-bars[i-1]);return vals[i-1]+(vals[i]-vals[i-1])*f;}
    }
    return vals[vals.length-1];
  };
  const b2=[a],v2=[at(a)];
  bars.forEach((x,i)=>{if(x>a&&x<b){b2.push(x);v2.push(vals[i]);}});
  b2.push(b);v2.push(at(b));
  return [b2,v2];
}
function coloredPath(p,xf,yf,bars,vals,baseColor,altColor,ranges,w){
  path(p,xf,yf,bars,vals,baseColor,w);
  ranges.forEach(r=>{
    const s=rangeSlice(bars,vals,r[0],r[1]);
    path(p,xf,yf,s[0],s[1],altColor,w);
  });
}
function dots(p,xf,yf,level,from,to,color,r){
  for(let b=from;b<=to;b++){
    const el=mk('circle',{cx:xf(b).toFixed(1),cy:yf(level).toFixed(1),r:r,fill:color},p);
    
    
  }
}
function crosses(p,xf,yf,level,from,to,color){
  for(let b=from;b<=to;b++){
    const x=xf(b),y=yf(level);
    const el=mk('path',{d:'M'+(x-2).toFixed(1)+' '+y.toFixed(1)+'h4M'+x.toFixed(1)+' '+(y-2).toFixed(1)+'v4',stroke:color,'stroke-width':1,fill:'none'},p);
    
    
  }
}
function candles(p,xf,yf,open,high,low,close,w){
  open.forEach((o,i)=>{
    const c=close[i],up=c>=o;
    const col=up?'#26a69a':'#ef5350',fill=up?'#92d3cc':'#f7a9a7';
    const x=xf(i);
    const wick=mk('line',{x1:x.toFixed(1),x2:x.toFixed(1),y1:yf(high[i]).toFixed(1),y2:yf(low[i]).toFixed(1),stroke:col,'stroke-width':1.2},p);
    
    
    const top=yf(Math.max(o,c)),bot=yf(Math.min(o,c));
    const body=mk('rect',{x:(x-w/2).toFixed(1),y:top.toFixed(1),width:w,height:Math.max(bot-top,1.5).toFixed(1),fill:fill,stroke:col,'stroke-width':1.4},p);
    
    
  });
}
function tri(p,x,y,up,color){
  const d=up?[x-4.5,y+5,x+4.5,y+5,x,y-5]:[x-4.5,y-5,x+4.5,y-5,x,y+5];
  const el=mk('polygon',{points:d[0]+','+d[1]+' '+d[2]+','+d[3]+' '+d[4]+','+d[5],fill:color},p);
  
  
}
function tick(p,x,y,color){
  const yn=Number(y);
  const el=mk('line',{x1:x,x2:x,y1:yn-4,y2:yn+4,stroke:color,'stroke-width':1.5},p);
  
  
}
function quads(p,xf,yf,rows,color){
  rows.forEach(r=>{
    const pts=[0,2,4,6].map(i=>xf(r[i]).toFixed(1)+','+yf(r[i+1]).toFixed(1)).join(' ');
    const el=mk('polygon',{points:pts,fill:color},p);
    
    
  });
}
function volumePane(p,xf,yf,open,close,vols,bars,ma,spread){
  for(let i=0;i<bars.length-1;i++){
    const pts=[
      xf(bars[i]).toFixed(1)+','+yf(ma[i]+Math.abs(spread[i])).toFixed(1),
      xf(bars[i+1]).toFixed(1)+','+yf(ma[i+1]+Math.abs(spread[i+1])).toFixed(1),
      xf(bars[i+1]).toFixed(1)+','+yf(ma[i+1]-Math.abs(spread[i+1])).toFixed(1),
      xf(bars[i]).toFixed(1)+','+yf(ma[i]-Math.abs(spread[i])).toFixed(1)].join(' ');
    const color=spread[i+1]>=0?'#ffcdcd':'#cfe6d0';
    const el=mk('polygon',{points:pts,fill:color},p);
    
    
  }
  vols.forEach((v,i)=>{
    if(i>=open.length)return;
    const up=close[i]>=open[i];
    const y=yf(v);
    const el=mk('rect',{x:(xf(i)-4.6).toFixed(1),y:y.toFixed(1),width:9.2,height:(yf(0)-y).toFixed(1),fill:up?'#92d2cc':'#f9b9b9'},p);
    
    
  });
}
function grid(p,xf,ticks,y1,y2){
  ticks.forEach(b=>vLine(p,xf(b).toFixed(1),y1,y2,'#f0f3fa',1.2));
}

// ----- grid -----
const g=$('grid');
btcPriceGrid.forEach(v=>hLine(g,10,2664,btcY(v).toFixed(1),'#eff1f5',1.6));
usdtPriceGrid.forEach(v=>hLine(g,10,2664,usdtY(v).toFixed(1),'#eff1f5',1.6));
grid(g,btcX,btcTickBars,28,654);
grid(g,usdtX,usdtTickBars,704,1331);
[498,550,602,655].forEach(y=>hLine(g,10,2785,y,'#e6e8ee',2));
[1156,1216,1284,1332].forEach(y=>hLine(g,10,2785,y,'#e6e8ee',2));

// ----- BTC main -----
const bm=$('btcMain');
ribbon(bm,btcX,btcY,btcPink1Bars,btcPink1Top,btcPink1Bot,'#ffc9c9');
ribbon(bm,btcX,btcY,btcPink2Bars,btcPink2Top,btcPink2Bot,'#ffc9c9');
ribbon(bm,btcX,btcY,btcPink3Bars,btcPink3Top,btcPink3Bot,'#ffc9c9');
ribbon(bm,btcX,btcY,btcBlue1Bars,btcBlue1Top,btcBlue1Bot,'#c6e1fc');
ribbon(bm,btcX,btcY,btcBlue2Bars,btcBlue2Top,btcBlue2Bot,'#c6e1fc');
ribbon(bm,btcX,btcY,btcBlue3Bars,btcBlue3Top,btcBlue3Bot,'#c6e1fc');
btcGreenDotLevels.forEach((l,i)=>dots(bm,btcX,btcY,l,btcGreenDotFrom[i],btcGreenDotTo[i],'#93cc95',4.2));
btcBlueCrossLevels.forEach((l,i)=>crosses(bm,btcX,btcY,l,btcBlueCrossFrom[i],btcBlueCrossTo[i],'#2196f3'));
btcRedCrossLevels.forEach((l,i)=>crosses(bm,btcX,btcY,l,btcRedCrossFrom[i],btcRedCrossTo[i],'#ff5252'));
hLine(bm,10,2664,btcY(btcBlueDashLevel).toFixed(1),'#0000e0',1.6,'6 5');
hLine(bm,10,2664,btcY(btcBlueSolidLevel).toFixed(1),'#0000d0',1.6);
hLine(bm,10,2664,btcY(btcMagentaLevel).toFixed(1),'#ff00ff',1.6,'6 5');
hLine(bm,10,2664,btcY(btcPurpleDotLevel).toFixed(1),'#8f00ff',2.4,'2.5 2.5');
hLine(bm,10,2664,btcY(btcLastLevel).toFixed(1),'#f08080',1,'1.5 1.5');
btcPurpleLevels.forEach((l,i)=>hLine(bm,btcX(btcPurpleFrom[i]).toFixed(1),btcX(btcPurpleTo[i]).toFixed(1),btcY(l).toFixed(1),'#ba68c8',3.5));
hLine(bm,btcX(btcDarkFrom).toFixed(1),btcX(btcDarkTo).toFixed(1),btcY(btcDarkLevel).toFixed(1),'#5a3f8a',3.2);
btcSelBars.forEach((b,i)=>vLine(bm,btcX(b).toFixed(1),28,497,i===0?'#9db4d6':'#4a86e8',1.2));
candles(bm,btcX,btcY,btcOpen,btcHigh,btcLow,btcClose,8.2);
[[btcLine1Bars,btcLine1Vals],[btcLine2Bars,btcLine2Vals],[btcLine3Bars,btcLine3Vals],[btcLine4Bars,btcLine4Vals],[btcLine5Bars,btcLine5Vals],[btcLine6Bars,btcLine6Vals],[btcLine7Bars,btcLine7Vals],[btcLine8Bars,btcLine8Vals],[btcLine9Bars,btcLine9Vals],[btcLine10Bars,btcLine10Vals]].forEach(s=>path(bm,btcX,btcY,s[0],s[1],'#3f9bf5',4.2,0.92));

// ----- USDT main -----
const um=$('usdtMain');
ribbon(um,usdtX,usdtY,usdtPink1Bars,usdtPink1Top,usdtPink1Bot,'#ffc9c9');
ribbon(um,usdtX,usdtY,usdtPink2Bars,usdtPink2Top,usdtPink2Bot,'#ffc9c9');
ribbon(um,usdtX,usdtY,usdtBlue1Bars,usdtBlue1Top,usdtBlue1Bot,'#c6e1fc');
ribbon(um,usdtX,usdtY,usdtBlue2Bars,usdtBlue2Top,usdtBlue2Bot,'#c6e1fc');
ribbon(um,usdtX,usdtY,usdtBlue3Bars,usdtBlue3Top,usdtBlue3Bot,'#c6e1fc');
ribbon(um,usdtX,usdtY,usdtBlue4Bars,usdtBlue4Top,usdtBlue4Bot,'#c6e1fc');
usdtGrayDotLevels.forEach((l,i)=>dots(um,usdtX,usdtY,l,usdtGrayDotFrom[i],usdtGrayDotTo[i],'#c9cad2',4.3));
usdtBlueDotLevels.forEach((l,i)=>dots(um,usdtX,usdtY,l,usdtBlueDotFrom[i],usdtBlueDotTo[i],'#72ade2',4.3));
usdtGreenDotLevels.forEach((l,i)=>dots(um,usdtX,usdtY,l,usdtGreenDotFrom[i],usdtGreenDotTo[i],'#93cc95',4.3));
usdtRedCrossLevels.forEach((l,i)=>crosses(um,usdtX,usdtY,l,usdtRedCrossFrom[i],usdtRedCrossTo[i],'#ff5252'));
usdtBlueCrossLevels.forEach((l,i)=>crosses(um,usdtX,usdtY,l,usdtBlueCrossFrom[i],usdtBlueCrossTo[i],'#2196f3'));
hLine(um,10,2664,usdtY(usdtBlack1Level).toFixed(1),'#131722',3);
hLine(um,10,2664,usdtY(usdtRedDotLevel).toFixed(1),'#ff0000',2,'2 3');
hLine(um,10,2664,usdtY(usdtRedDashLevel).toFixed(1),'#ff0000',1.6,'6 5');
hLine(um,10,2664,usdtY(usdtGrayLevel).toFixed(1),'#8f8f8f',2.6,'11 8');
hLine(um,10,2664,usdtY(usdtLastLevel).toFixed(1),'#7fcfc6',1,'1.5 1.5');
hLine(um,10,2664,usdtY(usdtBlack2Level).toFixed(1),'#131722',1.6);
hLine(um,10,2664,usdtY(usdtBlueDotLevel).toFixed(1),'#0000ff',2.2,'2.5 2.5');
hLine(um,10,2664,usdtY(usdtRedDash2Level).toFixed(1),'#ff0000',1.6,'6 5');
hLine(um,10,2664,usdtY(usdtRedSolidLevel).toFixed(1),'#e00000',1.6);
hLine(um,10,2664,usdtY(usdtBlueDashLevel).toFixed(1),'#0000ff',1.6,'6 5');
usdtPurpleLevels.forEach((l,i)=>hLine(um,usdtX(usdtPurpleFrom[i]).toFixed(1),usdtX(usdtPurpleTo[i]).toFixed(1),usdtY(l).toFixed(1),'#ba68c8',3.5));
usdtDarkLevels.forEach((l,i)=>hLine(um,usdtX(usdtDarkFrom[i]).toFixed(1),usdtX(usdtDarkTo[i]).toFixed(1),usdtY(l).toFixed(1),'#5a3f8a',3));
usdtSelBars.forEach((b,i)=>vLine(um,usdtX(b).toFixed(1),704,1156,i===0?'#9db4d6':'#4a86e8',1.2));
candles(um,usdtX,usdtY,usdtOpen,usdtHigh,usdtLow,usdtClose,8.4);
[[usdtLine1Bars,usdtLine1Vals],[usdtLine2Bars,usdtLine2Vals],[usdtLine3Bars,usdtLine3Vals],[usdtLine4Bars,usdtLine4Vals],[usdtLine5Bars,usdtLine5Vals],[usdtLine6Bars,usdtLine6Vals],[usdtLine7Bars,usdtLine7Vals],[usdtLine8Bars,usdtLine8Vals]].forEach(s=>path(um,usdtX,usdtY,s[0],s[1],'#3f9bf5',4.2,0.92));

// ----- BTC volume -----
const bv=$('btcVol');
volumePane(bv,btcX,btcVolY,btcOpen,btcClose,btcVolume,btcVolMaBars,btcVolMa,btcVolSpread);
path(bv,btcX,btcVolY,btcVolMaBars,btcVolMa,'#7f1d1d',1.8);
btcVolUp.forEach(b=>tri(bv,btcX(b),514,true,'#0a7d0a'));
btcVolDown.forEach(b=>tri(bv,btcX(b),516,false,'#ff0000'));

// ----- USDT volume -----
const uv=$('usdtVol');
usdtHighlightBars.forEach(b=>{
  const el=mk('rect',{x:(usdtX(b)-6.4).toFixed(1),y:1157,width:12.8,height:58,fill:'#fdeeee'},uv);
  
  
});
volumePane(uv,usdtX,usdtVolY,usdtOpen,usdtClose,usdtVolume,usdtVolMaBars,usdtVolMa,usdtVolSpread);
coloredPath(uv,usdtX,usdtVolY,usdtVolMaBars,usdtVolMa,'#26d7cc','#7f1d1d',usdtVolAltRanges,1.8);
usdtVolUp.forEach(b=>tri(uv,usdtX(b),1172,true,'#0a7d0a'));
usdtVolDown.forEach(b=>tri(uv,usdtX(b),1175,false,'#ff0000'));

// ----- wRSI panes -----
function rsiPane(p,xf,yf,bars,vals,red,green,pink,up,down,tlr,tlg,thr,thg){
  quads(p,xf,yf,green,'#b9dcb9');
  quads(p,xf,yf,pink,'#fcc6c4');
  hLine(p,10,2664,yf(50).toFixed(1),'#787b86',1.6);
  hLine(p,10,2664,yf(80).toFixed(1),'#787b86',1.2,'5 4');
  hLine(p,10,2664,yf(20).toFixed(1),'#787b86',1.2,'5 4');
  coloredPath(p,xf,yf,bars,vals,'#35f0f5','#ff5252',red,3.6);
  up.forEach(b=>tri(p,xf(b),yf(21),true,'#0a7d0a'));
  down.forEach(b=>tri(p,xf(b),yf(77),false,'#ff0000'));
  tlr.forEach(b=>tick(p,xf(b).toFixed(1),yf(20).toFixed(1),'#ff0000'));
  tlg.forEach(b=>tick(p,xf(b).toFixed(1),yf(20).toFixed(1),'#0a7d0a'));
  thr.forEach(b=>tick(p,xf(b).toFixed(1),yf(80).toFixed(1),'#ff0000'));
  thg.forEach(b=>tick(p,xf(b).toFixed(1),yf(80).toFixed(1),'#0a7d0a'));
}
rsiPane($('btcRsi'),btcX,btcRsiY,btcRsiBars,btcRsiVals,btcRsiRed,btcRsiGreen,btcRsiPink,btcRsiUp,btcRsiDown,btcRsiTickLowRed,btcRsiTickLowGreen,btcRsiTickHighRed,btcRsiTickHighGreen);
rsiPane($('usdtRsi'),usdtX,usdtRsiY,usdtRsiBars,usdtRsiVals,usdtRsiRed,usdtRsiGreen,usdtRsiPink,usdtRsiUp,usdtRsiDown,usdtRsiTickLowRed,usdtRsiTickLowGreen,usdtRsiTickHighRed,usdtRsiTickHighGreen);

// ----- CCI panes -----
function cciPane(p,xf,yf,x2,bars,vals,green,slowBars,slowVals,slowAlt,slowColor,tickTop,tickBot){
  const band=mk('rect',{x:10,y:yf(100).toFixed(1),width:x2-10,height:(yf(-100)-yf(100)).toFixed(1),fill:'#f3efe8'},p);
  
  
  hLine(p,10,2664,yf(0).toFixed(1),'#b2aea6',1.4);
  coloredPath(p,xf,yf,bars,vals,'#ff0000','#0a7d0a',green,2.2);
  coloredPath(p,xf,yf,slowBars,slowVals,'#f57c00',slowColor,slowAlt,2.8);
  tickTop.forEach(b=>tick(p,xf(b).toFixed(1),yf(100)+4,'#ff0000'));
  tickBot.forEach(b=>tick(p,xf(b).toFixed(1),yf(-60),'#0a7d0a'));
}
cciPane($('btcCci'),btcX,btcCciY,2664,btcCciBars,btcCciVals,btcCciGreen,btcSlowBars,btcSlowVals,btcSlowBlue,'#0000ff',btcCciTickTop,btcCciTickBottom);
cciPane($('usdtCci'),usdtX,usdtCciY,2664,usdtCciBars,usdtCciVals,usdtCciGreen,usdtSlowBars,usdtSlowVals,usdtSlowDark,'#7f0000',usdtCciTickTop,usdtCciTickBottom);

// ----- time axes -----
function timeAxis(p,xf,bars,labels,selBars,baseline,boxTop){
  bars.forEach((b,i)=>{
    const t=mk('text',{x:xf(b).toFixed(1),y:baseline,'text-anchor':'middle','font-size':18,fill:'#131722'},p);
    if(labels[i]==='2022'){t.setAttribute('font-weight','bold');}
    t.textContent=labels[i];
    
    
  });
  selBars.forEach((b,i)=>{
    const r=mk('rect',{x:(xf(b)-54).toFixed(1),y:boxTop,width:108,height:36,rx:1,fill:i===0?'#a6c1f2':'#4a86e8'},p);
    
    
    const t=mk('text',{x:xf(b).toFixed(1),y:baseline,'text-anchor':'middle','font-size':18,fill:i===0?'#131722':'#ffffff',textLength:77,lengthAdjust:'spacingAndGlyphs'},p);
    t.textContent=selLabels[i];
    
    
  });
}
timeAxis($('btcTime'),btcX,btcTickBars,btcTickLabels,btcSelBars,682,655);
timeAxis($('usdtTime'),usdtX,usdtTickBars,usdtTickLabels,usdtSelBars,1359,1332);
</script>
</body>
</html>
